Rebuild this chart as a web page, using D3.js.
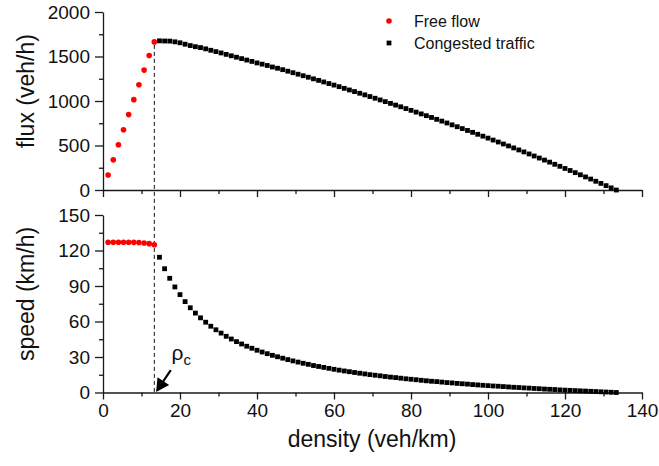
<!DOCTYPE html>
<html><head><meta charset="utf-8">
<script src="https://cdn.jsdelivr.net/npm/d3@7/dist/d3.min.js"></script>
<style>
html,body{margin:0;padding:0;background:#fff;}
svg{display:block;font-family:"Liberation Sans",Arial,sans-serif;}
</style></head>
<body>
<svg id="chart" width="659" height="466"></svg>
<script>
// ---- data ----
const freeDensity = [1.33, 2.67, 4, 5.33, 6.67, 8, 9.33, 10.67, 12, 13.33];
const freeFlux    = [169, 339, 508, 677, 847, 1015, 1182, 1347, 1510, 1664];
const freeSpeed   = [127, 127, 127, 127, 127, 126.9, 126.7, 126.3, 125.8, 124.8];

const congDensity = [
  14.67, 16, 17.33, 18.67, 20, 21.33, 22.67, 24, 25.33, 26.67,
  28, 29.33, 30.67, 32, 33.33, 34.67, 36, 37.33, 38.67, 40,
  41.33, 42.67, 44, 45.33, 46.67, 48, 49.33, 50.67, 52, 53.33,
  54.67, 56, 57.33, 58.67, 60, 61.33, 62.67, 64, 65.33, 66.67,
  68, 69.33, 70.67, 72, 73.33, 74.67, 76, 77.33, 78.67, 80,
  81.33, 82.67, 84, 85.33, 86.67, 88, 89.33, 90.67, 92, 93.33,
  94.67, 96, 97.33, 98.67, 100, 101.33, 102.67, 104, 105.33, 106.67,
  108, 109.33, 110.67, 112, 113.33, 114.67, 116, 117.33, 118.67, 120,
  121.33, 122.67, 124, 125.33, 126.67, 128, 129.33, 130.67, 132, 133.33];
const congFlux = [
  1676, 1674, 1673, 1665, 1654, 1638, 1623, 1610, 1600, 1586,
  1570, 1555, 1540, 1524, 1508, 1492, 1476, 1460, 1445, 1428,
  1414, 1399, 1382, 1368, 1352, 1335, 1318, 1301, 1284, 1267,
  1249, 1232, 1214, 1196, 1179, 1161, 1142, 1124, 1106, 1087,
  1069, 1050, 1031, 1012, 993, 973, 954, 935, 915, 895,
  875, 855, 835, 815, 794, 774, 753, 732, 711, 690,
  669, 648, 626, 605, 583, 561, 539, 517, 495, 473,
  450, 428, 405, 382, 359, 336, 313, 289, 266, 242,
  219, 195, 171, 147, 123, 98, 74, 49, 24, 0];
const congSpeed = [
  114.3, 104.6, 96.5, 89.2, 82.7, 76.8, 71.6, 67.1, 63.1, 59.4,
  56.0, 53.0, 50.2, 47.5, 45.2, 43.0, 41.0, 39.1, 37.4, 35.7,
  34.2, 32.8, 31.4, 30.2, 29.0, 27.8, 26.7, 25.7, 24.7, 23.8,
  22.8, 22.0, 21.2, 20.4, 19.6, 18.9, 18.2, 17.6, 16.9, 16.3,
  15.7, 15.1, 14.6, 14.1, 13.5, 13.0, 12.6, 12.1, 11.6, 11.2,
  10.8, 10.3, 9.9, 9.5, 9.2, 8.8, 8.4, 8.1, 7.7, 7.4,
  7.1, 6.7, 6.4, 6.1, 5.8, 5.5, 5.3, 5.0, 4.7, 4.4,
  4.2, 3.9, 3.7, 3.4, 3.2, 2.9, 2.7, 2.5, 2.2, 2.0,
  1.8, 1.6, 1.4, 1.2, 1.0, 0.8, 0.6, 0.4, 0.2, 0.0];

const criticalDensity = 13.33;
const xTicks = [0, 20, 40, 60, 80, 100, 120, 140];
const xMinor = [10, 30, 50, 70, 90, 110, 130];
const fluxTicks = [0, 500, 1000, 1500, 2000];
const fluxMinor = [250, 750, 1250, 1750];
const speedTicks = [0, 30, 60, 90, 120, 150];
const speedMinor = [15, 45, 75, 105, 135];
const legendLabels = ["Free flow", "Congested traffic"];
const xTitle = "density (veh/km)";
const fluxTitle = "flux (veh/h)";
const speedTitle = "speed (km/h)";

// ---- scales ----
const svg = d3.select("#chart");
const x = d3.scaleLinear().domain([0, 140]).range([103, 642]);
const yF = d3.scaleLinear().domain([0, 2000]).range([190, 12]);
const yS = d3.scaleLinear().domain([0, 150]).range([392.5, 215]);

const axisColor = "#1a1a1a";
function styleAxis(g) {
  g.selectAll("path.domain").attr("stroke", axisColor).attr("stroke-width", 1.3);
  g.selectAll(".tick line").attr("stroke", axisColor).attr("stroke-width", 1.3);
  g.selectAll("text").attr("font-family", "Liberation Sans, Arial, sans-serif")
    .attr("font-size", 19).attr("fill", "#111");
}

// top panel axes
const gTopX = svg.append("g").attr("transform", `translate(0,${yF(0)})`)
  .call(d3.axisBottom(x).tickValues(xTicks).tickSize(7).tickSizeOuter(0).tickFormat(""));
styleAxis(gTopX);
svg.append("g").attr("transform", `translate(0,${yF(0)})`)
  .call(d3.axisBottom(x).tickValues(xMinor).tickSize(4).tickFormat(""))
  .call(g => { g.select(".domain").remove(); styleAxis(g); });
const gTopY = svg.append("g").attr("transform", `translate(${x(0)},0)`)
  .call(d3.axisLeft(yF).tickValues(fluxTicks).tickSize(8).tickSizeOuter(0).tickPadding(5).tickFormat(d3.format("d")));
styleAxis(gTopY);
svg.append("g").attr("transform", `translate(${x(0)},0)`)
  .call(d3.axisLeft(yF).tickValues(fluxMinor).tickSize(4).tickFormat(""))
  .call(g => { g.select(".domain").remove(); styleAxis(g); });

// bottom panel axes
const gBotX = svg.append("g").attr("transform", `translate(0,${yS(0)})`)
  .call(d3.axisBottom(x).tickValues(xTicks).tickSize(7).tickSizeOuter(0).tickPadding(4).tickFormat(d3.format("d")));
styleAxis(gBotX);
svg.append("g").attr("transform", `translate(0,${yS(0)})`)
  .call(d3.axisBottom(x).tickValues(xMinor).tickSize(4).tickFormat(""))
  .call(g => { g.select(".domain").remove(); styleAxis(g); });
const gBotY = svg.append("g").attr("transform", `translate(${x(0)},0)`)
  .call(d3.axisLeft(yS).tickValues(speedTicks).tickSize(8).tickSizeOuter(0).tickPadding(5).tickFormat(d3.format("d")));
styleAxis(gBotY);
svg.append("g").attr("transform", `translate(${x(0)},0)`)
  .call(d3.axisLeft(yS).tickValues(speedMinor).tickSize(4).tickFormat(""))
  .call(g => { g.select(".domain").remove(); styleAxis(g); });

// titles
svg.append("text").attr("x", 372).attr("y", 447).attr("text-anchor", "middle")
  .attr("font-size", 23).attr("fill", "#111").text(xTitle);
svg.append("text").attr("transform", "translate(34,91) rotate(-90)").attr("text-anchor", "middle")
  .attr("font-size", 23).attr("fill", "#111").text(fluxTitle);
svg.append("text").attr("transform", "translate(34,294) rotate(-90)").attr("text-anchor", "middle")
  .attr("font-size", 23).attr("fill", "#111").text(speedTitle);

// dashed critical line
svg.append("line")
  .attr("x1", x(criticalDensity)).attr("x2", x(criticalDensity))
  .attr("y1", yF(freeFlux[freeFlux.length - 1]) + 3).attr("y2", yS(0))
  .attr("stroke", "#111").attr("stroke-width", 1).attr("stroke-dasharray", "4,3");

// data marks
const sq = 4.8;
const congF = congDensity.map((d, i) => ({d, v: congFlux[i]}));
const congS = congDensity.map((d, i) => ({d, v: congSpeed[i]}));
const freeF = freeDensity.map((d, i) => ({d, v: freeFlux[i]}));
const freeS = freeDensity.map((d, i) => ({d, v: freeSpeed[i]}));

svg.append("g").selectAll("rect").data(congF).join("rect")
  .attr("x", p => x(p.d) - sq / 2).attr("y", p => yF(p.v) - sq / 2)
  .attr("width", sq).attr("height", sq).attr("fill", "#000");
svg.append("g").selectAll("rect").data(congS).join("rect")
  .attr("x", p => x(p.d) - sq / 2).attr("y", p => yS(p.v) - sq / 2)
  .attr("width", sq).attr("height", sq).attr("fill", "#000");
svg.append("g").selectAll("circle").data(freeF).join("circle")
  .attr("cx", p => x(p.d)).attr("cy", p => yF(p.v)).attr("r", 2.8).attr("fill", "#ff0000");
svg.append("g").selectAll("circle").data(freeS).join("circle")
  .attr("cx", p => x(p.d)).attr("cy", p => yS(p.v)).attr("r", 2.8).attr("fill", "#ff0000");

// annotation arrow rho_c
const tail = [x(17.6), yS(19)];
const tip = [x(criticalDensity) + 1.8, yS(0) - 0.5];
const dxA = tip[0] - tail[0], dyA = tip[1] - tail[1];
const lenA = Math.hypot(dxA, dyA), ux = dxA / lenA, uy = dyA / lenA;
const headL = 13, headW = 7;
const baseC = [tip[0] - ux * headL, tip[1] - uy * headL];
svg.append("line")
  .attr("x1", tail[0]).attr("y1", tail[1]).attr("x2", baseC[0] + ux).attr("y2", baseC[1] + uy)
  .attr("stroke", "#000").attr("stroke-width", 2.2);
svg.append("path")
  .attr("d", `M${tip[0]},${tip[1]} L${baseC[0] - uy * headW},${baseC[1] + ux * headW} L${baseC[0] + uy * headW},${baseC[1] - ux * headW} Z`)
  .attr("fill", "#000");
const rho = svg.append("text").attr("x", x(17.8)).attr("y", yS(27.5)).attr("font-size", 21).attr("fill", "#111");
rho.append("tspan").text("ρ");
rho.append("tspan").attr("font-size", 15).attr("dy", 5).text("c");

// legend
const lg = svg.append("g");
lg.append("circle").attr("cx", 389).attr("cy", 21).attr("r", 2.8).attr("fill", "#ff0000");
lg.append("rect").attr("x", 389 - sq / 2).attr("y", 43 - sq / 2).attr("width", sq).attr("height", sq).attr("fill", "#000");
lg.selectAll("text").data(legendLabels).join("text")
  .attr("x", 414).attr("y", (d, i) => 27 + i * 22)
  .attr("font-size", 16).attr("fill", "#111").text(d => d);
</script>
</body></html>
